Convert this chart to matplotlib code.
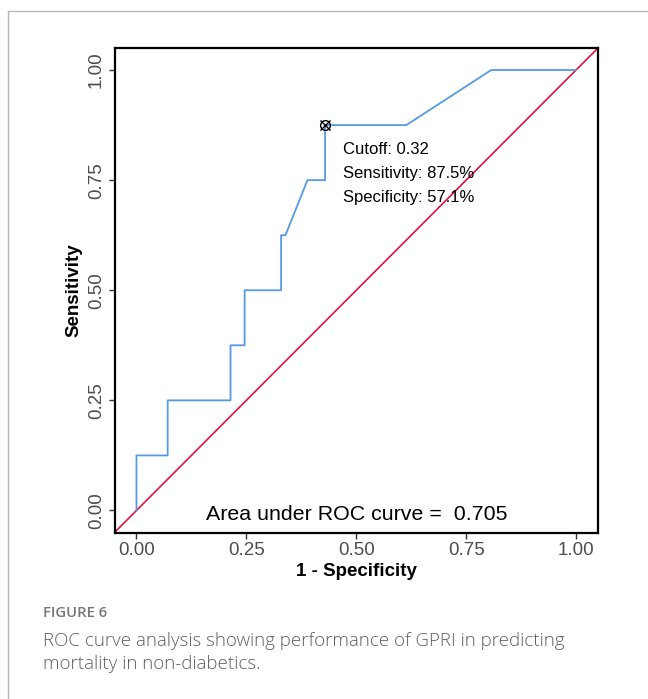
import matplotlib
matplotlib.use("Agg")
import matplotlib.pyplot as plt
from matplotlib.lines import Line2D

# ROC curve coordinates (1 - specificity, sensitivity)
fpr = [0.0, 0.0, 0.071, 0.071, 0.214, 0.214, 0.246, 0.246, 0.329, 0.329,
       0.339, 0.389, 0.429, 0.429, 0.614, 0.807, 1.0]
tpr = [0.0, 0.125, 0.125, 0.25, 0.25, 0.375, 0.375, 0.5, 0.5, 0.625,
       0.625, 0.75, 0.75, 0.875, 0.875, 1.0, 1.0]

# Optimal cutoff point
cutoff = 0.32
best_sens = 0.875
best_spec = 0.571
auc = 0.705

ticks = [0.0, 0.25, 0.5, 0.75, 1.0]
tick_labels = ["0.00", "0.25", "0.50", "0.75", "1.00"]

W, H = 648, 699
fig = plt.figure(figsize=(W / 100, H / 100), dpi=100)
fig.patch.set_facecolor("white")

# page border (top and left rules)
border = "#b8b8b8"
fig.add_artist(Line2D([8 / W, 8 / W], [0, 1 - 11 / H], transform=fig.transFigure,
                      color=border, lw=1.0))
fig.add_artist(Line2D([8 / W, 1], [1 - 11 / H, 1 - 11 / H], transform=fig.transFigure,
                      color=border, lw=1.0))

left, right, top, bottom = 114.5, 598, 48, 532.5
ax = fig.add_axes([left / W, 1 - bottom / H, (right - left) / W, (bottom - top) / H])
ax.set_xlim(-0.05, 1.05)
ax.set_ylim(-0.05, 1.05)

sans = ["Liberation Sans", "DejaVu Sans"]

# chance line
ax.plot([-0.05, 1.05], [-0.05, 1.05], color="#DC143C", lw=1.2, zorder=2)
# ROC curve
ax.plot(fpr, tpr, color="#559BE3", lw=1.3, zorder=3)
# cutoff marker
bx = 1 - best_spec
ax.plot([bx], [best_sens], marker="o", ms=7, mfc="none", mec="black", mew=1.0, zorder=4)
ax.plot([bx], [best_sens], marker="x", ms=6.5, mec="black", mew=1.0, zorder=4)

ax.text(bx + 0.04, 0.82, f"Cutoff: {cutoff:.2f}", fontsize=12, family=sans, va="center")
ax.text(bx + 0.04, 0.765, f"Sensitivity: {best_sens * 100:.1f}%", fontsize=12,
        family=sans, va="center")
ax.text(bx + 0.04, 0.71, f"Specificity: {best_spec * 100:.1f}%", fontsize=12,
        family=sans, va="center")

ax.text(0.5, -0.008, f"Area under ROC curve =  {auc:.3f}", fontsize=15.4, family=sans,
        ha="center", va="center")

for s in ax.spines.values():
    s.set_linewidth(1.6)
    s.set_color("black")

ax.set_xticks(ticks)
ax.set_xticklabels(tick_labels)
ax.set_yticks(ticks)
ax.set_yticklabels(tick_labels, rotation=90, va="center")
ax.tick_params(axis="both", length=4, width=1.0, color="#333333",
               labelsize=13.5, labelcolor="#4d4d4d", pad=3)
for lab in ax.get_xticklabels() + ax.get_yticklabels():
    lab.set_family(sans)

ax.set_xlabel("1 - Specificity", fontsize=13.5, fontweight="bold", family=sans, labelpad=3)
ax.set_ylabel("Sensitivity", fontsize=13.5, fontweight="bold", family=sans, labelpad=4)

# caption
cap = "#5f5f5f"
fig.text(43 / W, 1 - 613 / H, "FIGURE 6", fontsize=10.7, color="#777777",
         family="Open Sans", fontweight="semibold", va="center")
fig.text(43 / W, 1 - 641 / H,
         "ROC curve analysis showing performance of GPRI in predicting",
         fontsize=13.5, color=cap, family="Open Sans", fontweight="light", va="center")
fig.text(43 / W, 1 - 664 / H, "mortality in non-diabetics.",
         fontsize=13.5, color=cap, family="Open Sans", fontweight="light", va="center")

fig.savefig("out.png", dpi=100, facecolor="white")
